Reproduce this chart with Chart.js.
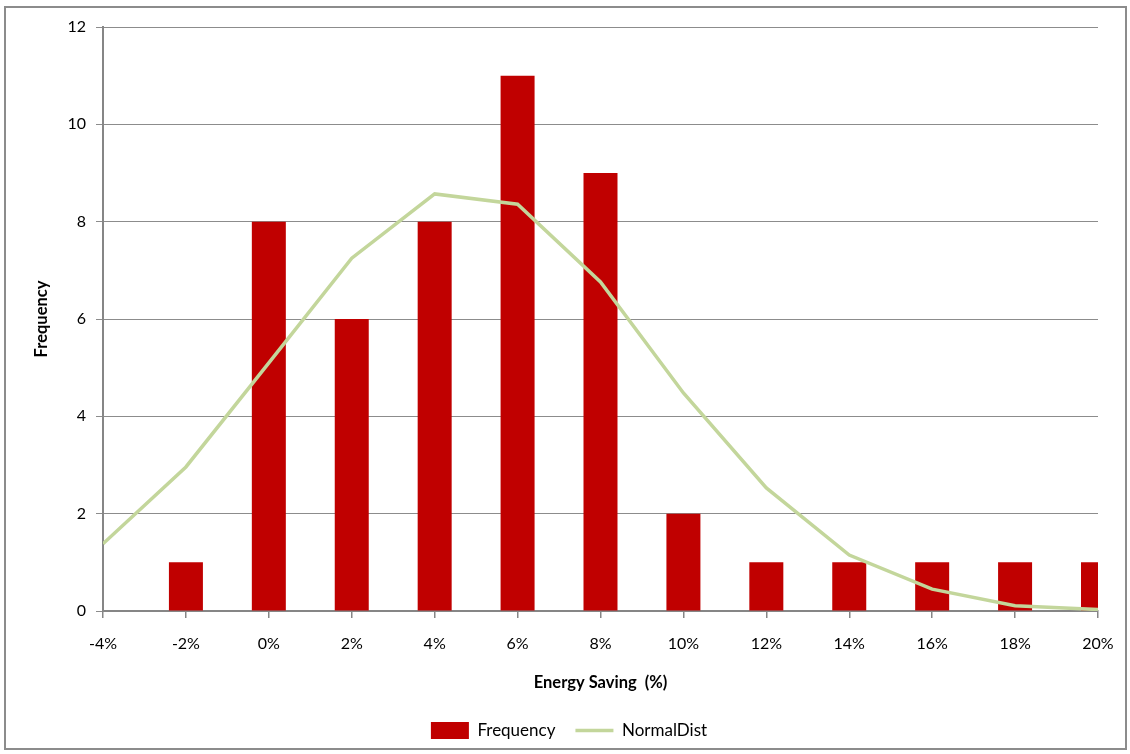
<!DOCTYPE html>
<html>
<head>
<meta charset="utf-8">
<script src="https://cdn.jsdelivr.net/npm/chart.js@4.4.1/dist/chart.umd.min.js"></script>
<style>
    html, body { margin: 0; padding: 0; background: #fff; }
    #wrap { position: relative; width: 1130px; height: 754px; }
    #frame {
        position: absolute; left: 4px; top: 6px; width: 1123px; height: 744px;
        border: 2px solid #8c8c8c; box-sizing: border-box; pointer-events: none;
    }
</style>
</head>
<body>
<div id="wrap">
    <canvas id="histChart" width="1130" height="754"></canvas>
    <div id="frame"></div>
</div>
<script>
// Data
const savingLabels = ['-4%', '-2%', '0%', '2%', '4%', '6%', '8%', '10%', '12%', '14%', '16%', '18%', '20%'];
const frequency = [0, 1, 8, 6, 8, 11, 9, 2, 1, 1, 1, 1, 1];
const normalDist = [1.38, 2.96, 5.1, 7.25, 8.57, 8.36, 6.76, 4.48, 2.53, 1.15, 0.45, 0.11, 0.03];
const yTicks = [0, 2, 4, 6, 8, 10, 12];

const colors = {
    bar: '#c00000',
    line: '#c3d69b',
    grid: '#8c8c8c',
    axis: '#868686',
    text: '#000000'
};

const tickFont = { family: 'Lato', size: 16 };
const titleFont = { family: 'Lato', size: 16.5, weight: 'bold' };

// Excel centres the legend on the whole frame, not on the padded layout box
const legendShift = {
    id: 'legendShift',
    afterLayout(chart) {
        if (chart.legend) {
            chart.legend.left += 20;
            chart.legend.right += 20;
        }
    }
};

const ctx = document.getElementById('histChart').getContext('2d');
new Chart(ctx, {
    type: 'bar',
    data: {
        labels: savingLabels,
        datasets: [{
            type: 'bar',
            label: 'Frequency',
            data: frequency,
            backgroundColor: colors.bar,
            borderWidth: 0,
            categoryPercentage: 1,
            barPercentage: 0.41,
            pointStyle: 'rect',
            clip: 0,
            order: 2
        }, {
            type: 'line',
            label: 'NormalDist',
            data: normalDist,
            borderColor: colors.line,
            backgroundColor: colors.line,
            borderWidth: 3.5,
            pointRadius: 0,
            pointStyle: 'line',
            tension: 0,
            clip: 0,
            order: 1
        }]
    },
    options: {
        responsive: false,
        animation: false,
        layout: {
            padding: { top: 27, right: 32, bottom: 5, left: 0 }
        },
        plugins: {
            tooltip: { enabled: false },
            legend: {
                position: 'bottom',
                labels: {
                    font: { family: 'Lato', size: 17 },
                    color: colors.text,
                    usePointStyle: true,
                    pointStyleWidth: 38,
                    padding: 20,
                    sort: (a, b) => a.datasetIndex - b.datasetIndex
                }
            }
        },
        scales: {
            x: {
                offset: false,
                grid: {
                    offset: false,
                    drawOnChartArea: false,
                    drawTicks: true,
                    tickLength: 7,
                    color: colors.axis,
                    lineWidth: 1.5
                },
                border: { color: colors.axis, width: 2 },
                ticks: {
                    font: tickFont,
                    color: colors.text,
                    padding: 16,
                    maxRotation: 0,
                    autoSkip: false
                },
                title: {
                    display: true,
                    text: 'Energy Saving  (%)',
                    font: titleFont,
                    color: colors.text,
                    padding: { top: 0, bottom: 9 }
                },
                afterFit: scale => { scale.height = 91; }
            },
            y: {
                min: 0,
                max: 12,
                afterBuildTicks: scale => {
                    scale.ticks = yTicks.map(v => ({ value: v }));
                },
                grid: {
                    color: colors.grid,
                    lineWidth: 1,
                    tickLength: 7
                },
                border: { color: colors.axis, width: 2 },
                ticks: {
                    font: tickFont,
                    color: colors.text,
                    padding: 10
                },
                title: {
                    display: true,
                    text: 'Frequency',
                    font: titleFont,
                    color: colors.text,
                    padding: { top: 32, bottom: 0 }
                },
                afterFit: scale => { scale.width = 103; }
            }
        }
    },
    plugins: [legendShift]
});
</script>
</body>
</html>
